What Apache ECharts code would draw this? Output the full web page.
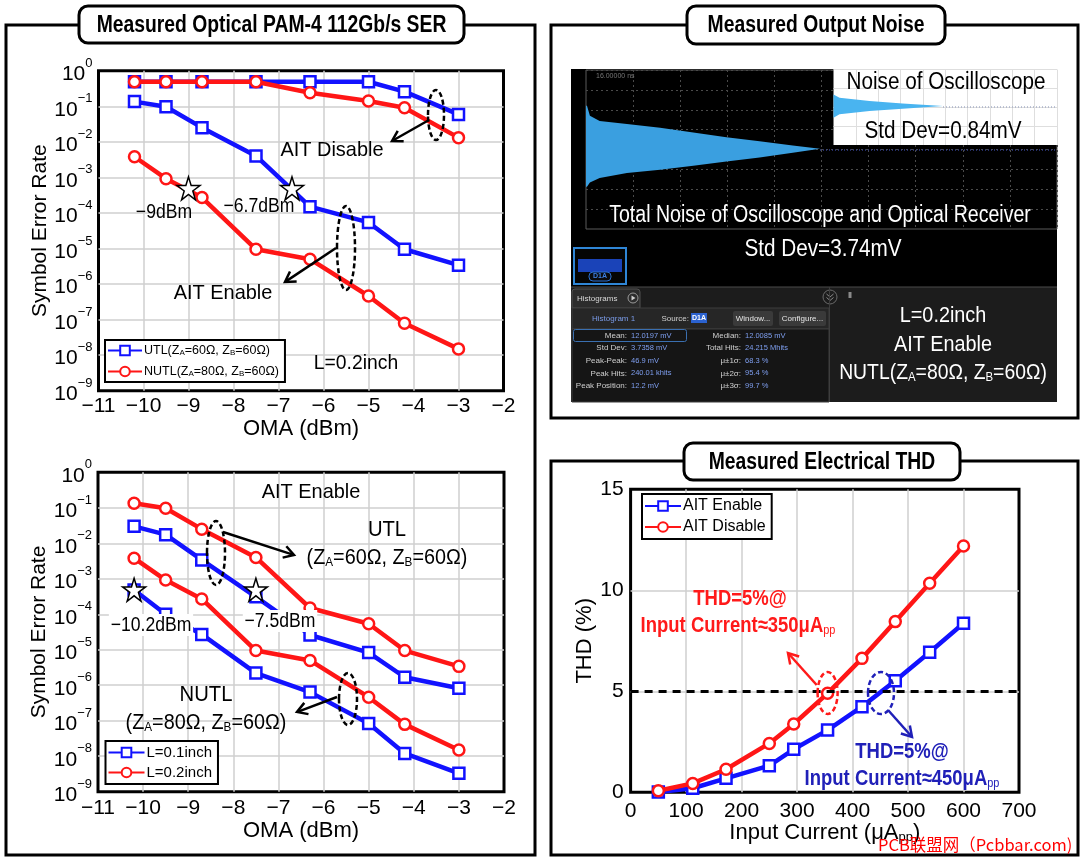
<!DOCTYPE html>
<html><head><meta charset="utf-8">
<script src="https://cdn.jsdelivr.net/npm/echarts@6/dist/echarts.min.js"></script>
<style>html,body{margin:0;padding:0;background:#fff}#c{width:1080px;height:858px}</style>
</head><body><div id="c"></div>
<script>
// ---------------- DATA ----------------
const omaPoints = [-10.2, -9.5, -8.7, -7.5, -6.3, -5.0, -4.2, -3.0];
// top-left: L=0.2inch, AIT disable / enable
const serUtlDisable   = [0.49, 0.49, 0.49, 0.49, 0.49, 0.49, 0.257, 0.059];
const serNutlDisable  = [0.49, 0.49, 0.49, 0.49, 0.24, 0.14, 0.091, 0.0131];
const serUtlEnable02  = [0.135, 0.097, 0.025, 0.0040, 1.5e-4, 5.4e-5, 9.5e-6, 3.4e-6];
const serNutlEnable02 = [3.8e-3, 9.2e-4, 2.7e-4, 9.5e-6, 5.0e-6, 4.6e-7, 7.9e-8, 1.5e-8];
// bottom-left: L=0.1inch, AIT enable
const serUtlEnable01  = [0.030, 0.0175, 3.4e-3, 3.1e-4, 2.6e-5, 8.3e-6, 1.68e-6, 8.2e-7];
const serNutlEnable01 = [4.8e-4, 1.0e-4, 2.7e-5, 2.2e-6, 6.4e-7, 8.3e-8, 1.2e-8, 3.3e-9];
const serThreshold = 4.9e-4;
const starsTop = [-9, -6.7];
const starsBottom = [-10.2, -7.5];
const omaRange = [-11, -2];
const serRange = [1e-9, 1];
// THD
const thdCurrent = [50, 112, 172, 250, 294, 355, 417, 477, 539, 600];
const thdEnable  = [0.02, 0.2, 0.69, 1.32, 2.13, 3.08, 4.24, 5.52, 6.93, 8.37];
const thdDisable = [0.08, 0.44, 1.14, 2.42, 3.38, 4.90, 6.63, 8.45, 10.35, 12.19];
const thdLimit = 5;
const thdXTicks = [0, 700, 100];
const thdYTicks = [0, 15, 5];
// Oscilloscope histograms (kHits vs mV)
const histMv    = [23.0, 20.5, 19.2, 18.4, 17.5, 16.3, 15.1, 14.1, 13.0, 12.2, 11.2, 10.0, 9.0, 7.9, 6.9, 6.1, 4.8, 3.7, 2.6];
const histKHits = [1, 4, 14, 42, 76, 110, 144, 178, 212, 240, 212, 178, 144, 110, 76, 42, 14, 4, 1];
const insetMv   = [10.7, 10.0, 9.3, 8.8, 8.26, 7.7, 7.2, 6.5, 5.8];
const insetHits = [0, 27, 161, 309, 489, 309, 161, 27, 0];
const statLabelsL = ['Mean:', 'Std Dev:', 'Peak-Peak:', 'Peak Hits:', 'Peak Position:'];
const statValuesL = ['12.0197 mV', '3.7358 mV', '46.9 mV', '240.01 khits', '12.2 mV'];
const statLabelsR = ['Median:', 'Total Hits:', 'μ±1σ:', 'μ±2σ:', 'μ±3σ:'];
const statValuesR = ['12.0085 mV', '24.215 Mhits', '68.3 %', '95.4 %', '99.7 %'];

// ---------------- STYLE ----------------
const FF = "'Liberation Sans',Arial,sans-serif";
const BLUE = '#1212ff', RED = '#ff1616', GRIDC = '#cfcfcf';
const minus = v => (v < 0 ? '\u2212' + Math.abs(v) : String(v));
const subRich = (fs) => ({ s: { fontSize: fs, fontFamily: FF, verticalAlign: 'bottom' } });

function serYAxis(gi) {
  return { type: 'log', logBase: 10, gridIndex: gi, min: serRange[0], max: serRange[1],
    axisLine: { show: false }, axisTick: { show: false },
    splitLine: { show: true, showMinLine: false, showMaxLine: false, lineStyle: { color: GRIDC, width: 1.5 } },
    axisLabel: { margin: 6, formatter: v => '{b|10}{s|' + minus(Math.round(Math.log10(v))) + '}',
      rich: { b: { fontSize: 21, fontFamily: FF, color: '#000', padding: [7, 0, 0, 0] },
              s: { fontSize: 13, fontFamily: FF, color: '#000', verticalAlign: 'top' } } },
    name: 'Symbol Error Rate', nameLocation: 'middle', nameRotate: 90, nameGap: 48,
    nameTextStyle: { fontSize: 21, fontFamily: FF, color: '#000' } };
}
function omaXAxis(gi, margin, gap) {
  return { type: 'value', gridIndex: gi, min: omaRange[0], max: omaRange[1], interval: 1,
    axisLine: { show: false }, axisTick: { show: false },
    splitLine: { show: true, showMinLine: false, showMaxLine: false, lineStyle: { color: GRIDC, width: 1.5 } },
    axisLabel: { margin: margin, fontSize: 21, fontFamily: FF, color: '#000', formatter: minus },
    name: 'OMA (dBm)', nameLocation: 'middle', nameGap: gap,
    nameTextStyle: { fontSize: 22, fontFamily: FF, color: '#000' } };
}
function lineS(name, xi, xs, ys, color, symbol, z) {
  return { type: 'line', name, xAxisIndex: xi, yAxisIndex: xi, data: xs.map((x, i) => [x, ys[i]]),
    symbol, symbolSize: 11, showSymbol: true, color, z: z || 2,
    lineStyle: { color, width: 4.5 }, itemStyle: { color: '#fff', borderColor: color, borderWidth: 2.5 } };
}
const STAR = 'path://M50,2 L61,37 L98,37 L68,59 L79,95 L50,73 L21,95 L32,59 L2,37 L39,37 Z';
function starS(gi, xs) {
  return { type: 'scatter', xAxisIndex: gi, yAxisIndex: gi, data: xs.map(x => [x, serThreshold]),
    symbol: STAR, symbolSize: 23, z: 6, itemStyle: { color: '#fff', opacity: 1, borderColor: '#000', borderWidth: 1.5 },
    markLine: { silent: true, symbol: 'none', label: { show: false }, animation: false,
      lineStyle: { type: [7, 5], color: '#000', width: 2.5 }, data: [{ yAxis: serThreshold }] } };
}
function histRender(xs, ys, color) {
  return function (params, api) {
    if (params.dataIndex !== 0) return null;
    const pts = [api.coord([0, ys[0]])];
    for (let i = 0; i < xs.length; i++) pts.push(api.coord([xs[i], ys[i]]));
    pts.push(api.coord([0, ys[ys.length - 1]]));
    return { type: 'polygon', shape: { points: pts }, style: { fill: color } };
  };
}
const legendFmt = n => n.replace(/Z([AB])=/g, 'Z{s|$1}=');
function legendBox(left, top, data, fs, gap, iw) {
  return { left, top, orient: 'vertical', data, itemWidth: iw || 36, itemHeight: 12, itemGap: gap,
    padding: [4, 6, 4, 2], borderColor: '#000', borderWidth: 2, backgroundColor: '#fff',
    selectedMode: false, z: 8, formatter: legendFmt,
    textStyle: { fontSize: fs, fontFamily: FF, color: '#000', padding: [0, 0, 0, -3], rich: subRich(8) } };
}

// ---------------- GRAPHICS ----------------
const G = [];
const T = (x, y, text, o, sx) => G.push({ type: 'text', x, y, z: (o && o.z) || 12, scaleX: sx || 1,
  style: Object.assign({ text, fill: '#000', fontSize: 21, fontFamily: FF, align: 'center', verticalAlign: 'middle' }, o || {}) });
const R = (x, y, w, h, st, z, r) => G.push({ type: 'rect', shape: { x, y, width: w, height: h, r: r || 0 }, style: st, z: z });
const Ln = (x1, y1, x2, y2, st, z) => G.push({ type: 'line', shape: { x1, y1, x2, y2 }, style: st, z: z || 12 });
function arrow(x1, y1, x2, y2, color) {
  const a = Math.atan2(y2 - y1, x2 - x1), L = 10, W = 6;
  const bx = x2 - L * Math.cos(a), by = y2 - L * Math.sin(a), px = -Math.sin(a) * W, py = Math.cos(a) * W;
  Ln(x1, y1, x2 - 2 * Math.cos(a), y2 - 2 * Math.sin(a), { stroke: color, lineWidth: 2.5 });
  G.push({ type: 'polyline', shape: { points: [[bx + px, by + py], [x2, y2], [bx - px, by - py]] },
    style: { stroke: color, lineWidth: 2.5, fill: 'none' }, z: 12 });
}
const ell = (cx, cy, rx, ry, color) => G.push({ type: 'ellipse', shape: { cx, cy, rx, ry },
  style: { fill: 'none', stroke: color || '#000', lineWidth: 2.5, lineDash: [5, 3] }, z: 12 });

// panel frames and titles
const frame = { fill: 'none', stroke: '#000', lineWidth: 3 };
R(6, 25, 529, 830, frame, 1);
R(551, 25, 527, 393, frame, 1);
R(551, 461, 527, 394, frame, 1);
[[79, 6, 385, 37, 'Measured Optical PAM-4 112Gb/s SER'], [687, 6, 258, 38, 'Measured Output Noise'],
 [684, 443, 276, 37, 'Measured Electrical THD']].forEach(t => {
  R(t[0], t[1], t[2], t[3], { fill: '#fff', stroke: '#000', lineWidth: 3 }, 20, 9);
  T(t[0] + t[2] / 2, t[1] + t[3] / 2 + 1, t[4], { fontSize: 23, fontWeight: 'bold', z: 21 }, 0.84);
});

// top-left annotations
T(332, 150, 'AIT Disable', {}, 0.95);
T(223, 293, 'AIT Enable', {}, 0.95);
T(164, 212, '\u22129dBm', { fontSize: 20 }, 0.88);
T(259, 206, '\u22126.7dBm', { fontSize: 20 }, 0.88);
T(356, 363, 'L=0.2inch', {}, 0.92);
ell(436, 115, 8, 25); arrow(429, 120, 392, 141, '#000');
ell(346, 248, 9, 42); arrow(336, 248, 285, 282, '#000');
// bottom-left annotations
T(311, 492, 'AIT Enable', {}, 0.95);
T(387, 530, 'UTL', { fontSize: 22 }, 0.92);
T(387, 558, '(Z{s|A}=60Ω, Z{s|B}=60Ω)', { fontSize: 22, rich: subRich(13) }, 0.9);
T(206, 695, 'NUTL', { fontSize: 22 }, 0.92);
T(206, 723, '(Z{s|A}=80Ω, Z{s|B}=60Ω)', { fontSize: 22, rich: subRich(13) }, 0.9);
T(151, 625, '\u221210.2dBm', { fontSize: 20, backgroundColor: '#fff', padding: [1, 2, 1, 2] }, 0.88);
T(280, 621, '\u22127.5dBm', { fontSize: 20, backgroundColor: '#fff', padding: [1, 2, 1, 2] }, 0.88);
ell(216, 553, 9, 32); arrow(223, 532, 294, 555, '#000');
ell(348, 699, 9, 26); arrow(337, 697, 297, 712, '#000');
// THD annotations
const DRED = '#ff1a1a', DBLUE = '#2020b8';
T(740, 599, 'THD=5%@', { fill: DRED, fontWeight: 'bold', fontSize: 22 }, 0.84);
T(738, 626, 'Input Current≈350μA{s|pp}', { fill: DRED, fontWeight: 'bold', fontSize: 22, rich: subRich(13) }, 0.84);
ell(827.6, 693, 10, 21, DRED); arrow(816.7, 685, 788, 653, DRED);
ell(881, 693, 13, 21, DBLUE); arrow(888, 710, 912, 737, DBLUE);
T(902, 752, 'THD=5%@', { fill: DBLUE, fontWeight: 'bold', fontSize: 22 }, 0.84);
T(902, 779, 'Input Current≈450μA{s|pp}', { fill: DBLUE, fontWeight: 'bold', fontSize: 22, rich: subRich(13) }, 0.84);
T(878, 845, 'PCB联盟网（Pcbbar.com)', { fill: '#ff0000', fontSize: 16.5, align: 'left',
  fontFamily: "'Noto Sans CJK SC',sans-serif", z: 30 });

// oscilloscope screen
R(571, 69, 486, 333, { fill: '#000' }, -10);
R(586, 70, 471, 159, { fill: 'none', stroke: '#5a5a5a', lineWidth: 1 }, 1);
T(596, 76, '16.00000 ns', { fontSize: 7, fill: '#777', align: 'left' });
Ln(820, 150, 1057, 150, { stroke: '#34408a', lineWidth: 1.5, lineDash: [1, 2] }, 3);
R(833.5, 69.5, 223.5, 75.5, { fill: '#fff' }, 2);
Ln(943, 107, 1057, 107, { stroke: '#a8b0c8', lineWidth: 1.5, lineDash: [1, 2] }, 5);
T(946, 83, 'Noise of Oscilloscope', { fontSize: 23 }, 0.9);
T(943, 132, 'Std Dev=0.84mV', { fontSize: 23 }, 0.9);
T(820, 216, 'Total Noise of Oscilloscope and Optical Receiver', { fontSize: 23, fill: '#fff' }, 0.85);
T(823, 250, 'Std Dev=3.74mV', { fontSize: 23, fill: '#fff' }, 0.9);
// thumbnail
R(574, 248, 52, 36, { fill: '#050505', stroke: '#2f86d6', lineWidth: 2 }, 3);
R(578, 259, 44, 13, { fill: '#1f4fd8', opacity: 0.85 }, 4);
R(589, 272, 22, 9, { fill: '#0a0a0a', stroke: '#2a6fd0', lineWidth: 1 }, 5, 4);
T(600, 276.5, 'D1A', { fontSize: 7, fontWeight: 'bold', fill: '#3c7fe0', z: 6 });
// histogram panel
R(571, 287, 486, 115, { fill: '#1c1c1c' }, -9);
Ln(571, 287, 1057, 287, { stroke: '#4a4a4a', lineWidth: 1 }, 3);
R(572, 289, 68, 19, { fill: '#2c2c2c', stroke: '#505050', lineWidth: 1 }, 3, [3, 3, 0, 0]);
T(577, 298.5, 'Histograms', { fontSize: 8, fill: '#d8d8d8', align: 'left' });
G.push({ type: 'circle', shape: { cx: 633, cy: 298, r: 5 }, style: { fill: 'none', stroke: '#9a9a9a', lineWidth: 1 }, z: 4 });
G.push({ type: 'polygon', shape: { points: [[631.5, 295.5], [631.5, 300.5], [635.5, 298]] }, style: { fill: '#cfcfcf' }, z: 4 });
G.push({ type: 'circle', shape: { cx: 830, cy: 297, r: 7 }, style: { fill: 'none', stroke: '#6a6a6a', lineWidth: 1 }, z: 4 });
G.push({ type: 'polyline', shape: { points: [[826.5, 294], [830, 297], [833.5, 294]] }, style: { fill: 'none', stroke: '#8a8a8a', lineWidth: 1 }, z: 4 });
G.push({ type: 'polyline', shape: { points: [[826.5, 297.5], [830, 300.5], [833.5, 297.5]] }, style: { fill: 'none', stroke: '#8a8a8a', lineWidth: 1 }, z: 4 });
R(848.5, 292, 3, 6, { fill: '#8a8a8a' }, 4);
R(572, 308, 257, 21, { fill: '#262626', stroke: '#3d3d3d', lineWidth: 1 }, 3);
T(613.6, 318.5, 'Histogram 1', { fontSize: 8, fill: '#7a9be8' });
T(689, 318.5, 'Source:', { fontSize: 8, fill: '#d0d0d0', align: 'right' });
R(691, 313, 16, 10, { fill: '#2b62d0' }, 4);
T(699, 318.5, 'D1A', { fontSize: 7, fontWeight: 'bold', fill: '#fff' });
R(733, 311, 40, 15, { fill: '#3a3a3a' }, 4, 2);
T(753, 318.5, 'Window...', { fontSize: 8, fill: '#e6e6e6' });
R(779, 311, 47, 15, { fill: '#3a3a3a' }, 4, 2);
T(802.5, 318.5, 'Configure...', { fontSize: 8, fill: '#e6e6e6' });
R(572, 329, 257, 73, { fill: '#151515', stroke: '#3d3d3d', lineWidth: 1 }, 3);
R(573.5, 329.5, 113, 12, { fill: 'none', stroke: '#3a6fb0', lineWidth: 1 }, 4, 2);
const rowY = [335.5, 348, 360.7, 373.3, 386];
rowY.forEach((y, i) => {
  T(627, y, statLabelsL[i], { fontSize: 8, fill: '#cfcfcf', align: 'right' });
  T(631, y, statValuesL[i], { fontSize: 7.5, fill: '#7f9ff0', align: 'left' });
  T(741, y, statLabelsR[i], { fontSize: 8, fill: '#cfcfcf', align: 'right' });
  T(745, y, statValuesR[i], { fontSize: 7.5, fill: '#7f9ff0', align: 'left' });
});
Ln(829.5, 287, 829.5, 402, { stroke: '#3d3d3d', lineWidth: 1 }, 4);
T(943, 316, 'L=0.2inch', { fontSize: 22, fill: '#fff' }, 0.9);
T(943, 345, 'AIT Enable', { fontSize: 22, fill: '#fff' }, 0.9);
T(943, 373, 'NUTL(Z{s|A}=80Ω, Z{s|B}=60Ω)', { fontSize: 22, fill: '#fff', rich: subRich(13) }, 0.88);

// ---------------- OPTION ----------------
const hidden = { axisLabel: { show: false }, axisLine: { show: false }, axisTick: { show: false } };
const option = {
  animation: false,
  textStyle: { fontFamily: FF },
  grid: [
    { left: 98.5, top: 70.7, width: 405, height: 320, show: true, borderColor: '#000', borderWidth: 3 },
    { left: 98, top: 472.3, width: 406, height: 319.4, show: true, borderColor: '#000', borderWidth: 3 },
    { left: 630.6, top: 489.3, width: 388.4, height: 303, show: true, borderColor: '#000', borderWidth: 3 },
    { left: 586, top: 70, width: 471, height: 159, show: false },
    { left: 833.5, top: 69.5, width: 223.5, height: 75.5, show: false }
  ],
  xAxis: [
    omaXAxis(0, 5, 26),
    omaXAxis(1, 6, 27),
    { type: 'value', gridIndex: 2, min: thdXTicks[0], max: thdXTicks[1], interval: thdXTicks[2],
      axisLine: { show: false }, axisTick: { show: false },
      splitLine: { show: true, showMinLine: false, showMaxLine: false, lineStyle: { color: GRIDC, width: 1.5 } },
      axisLabel: { margin: 8, fontSize: 21, fontFamily: FF, color: '#000' },
      name: 'Input Current (μA{s|pp})', nameLocation: 'middle', nameGap: 27,
      nameTextStyle: { fontSize: 22, fontFamily: FF, color: '#000', rich: subRich(13) } },
    Object.assign({ type: 'value', gridIndex: 3, min: 0, max: 483, interval: 48.3, z: 1,
      splitLine: { show: true, showMinLine: false, lineStyle: { color: '#4a4a4a', type: [2, 3] } } }, hidden),
    Object.assign({ type: 'value', gridIndex: 4, min: 0, max: 1000, interval: 100, z: 3,
      splitLine: { show: true, showMinLine: false, lineStyle: { color: '#dedede' } } }, hidden)
  ],
  yAxis: [
    serYAxis(0),
    serYAxis(1),
    { type: 'value', gridIndex: 2, min: thdYTicks[0], max: thdYTicks[1], interval: thdYTicks[2],
      axisLine: { show: false }, axisTick: { show: false },
      splitLine: { show: true, showMinLine: false, showMaxLine: false, lineStyle: { color: GRIDC, width: 1.5 } },
      axisLabel: { margin: 7, fontSize: 21, fontFamily: FF, color: '#000' },
      name: 'THD (%)', nameLocation: 'middle', nameRotate: 90, nameGap: 34,
      nameTextStyle: { fontSize: 22, fontFamily: FF, color: '#000' } },
    Object.assign({ type: 'value', gridIndex: 3, min: -8, max: 32, interval: 5, z: 1,
      splitLine: { show: true, showMinLine: false, lineStyle: { color: '#4a4a4a', type: [2, 3] } } }, hidden),
    Object.assign({ type: 'value', gridIndex: 4, min: 0, max: 16, interval: 4, z: 3,
      splitLine: { show: true, showMinLine: false, lineStyle: { color: '#dedede' } } }, hidden)
  ],
  legend: [
    legendBox(105, 340, ['UTL(ZA=60Ω, ZB=60Ω)', 'NUTL(ZA=80Ω, ZB=60Ω)'], 12.5, 8, 34),
    legendBox(105.5, 741, ['L=0.1inch', 'L=0.2inch'], 15, 5),
    legendBox(642, 494, ['AIT Enable', 'AIT Disable'], 16, 5)
  ],
  series: [
    lineS('UTL(ZA=60Ω, ZB=60Ω)', 0, omaPoints, serUtlDisable, BLUE, 'rect'),
    lineS('NUTL(ZA=80Ω, ZB=60Ω)', 0, omaPoints, serNutlDisable, RED, 'circle', 3),
    lineS('UTL(ZA=60Ω, ZB=60Ω)', 0, omaPoints, serUtlEnable02, BLUE, 'rect'),
    lineS('NUTL(ZA=80Ω, ZB=60Ω)', 0, omaPoints, serNutlEnable02, RED, 'circle', 3),
    starS(0, starsTop),
    lineS('L=0.1inch', 1, omaPoints, serUtlEnable01, BLUE, 'rect'),
    lineS('L=0.1inch', 1, omaPoints, serNutlEnable01, BLUE, 'rect'),
    lineS('L=0.2inch', 1, omaPoints, serUtlEnable02, RED, 'circle', 3),
    lineS('L=0.2inch', 1, omaPoints, serNutlEnable02, RED, 'circle', 3),
    starS(1, starsBottom),
    lineS('AIT Enable', 2, thdCurrent, thdEnable, BLUE, 'rect'),
    lineS('AIT Disable', 2, thdCurrent, thdDisable, RED, 'circle', 3),
    { type: 'line', xAxisIndex: 2, yAxisIndex: 2, data: [], silent: true,
      markLine: { silent: true, symbol: 'none', label: { show: false }, animation: false,
        lineStyle: { type: [8, 6], color: '#000', width: 3 }, data: [{ yAxis: thdLimit }] } },
    { type: 'custom', xAxisIndex: 3, yAxisIndex: 3, z: 4, clip: true,
      data: histKHits.map((h, i) => [h, histMv[i]]), renderItem: histRender(histKHits, histMv, '#3a9fe0') },
    { type: 'custom', xAxisIndex: 4, yAxisIndex: 4, z: 4, clip: true,
      data: insetHits.map((h, i) => [h, insetMv[i]]), renderItem: histRender(insetHits, insetMv, '#49b4f0') }
  ],
  graphic: { elements: G }
};
const chart = echarts.init(document.getElementById('c'), null, { renderer: 'canvas' });
chart.setOption(option);
</script></body></html>
